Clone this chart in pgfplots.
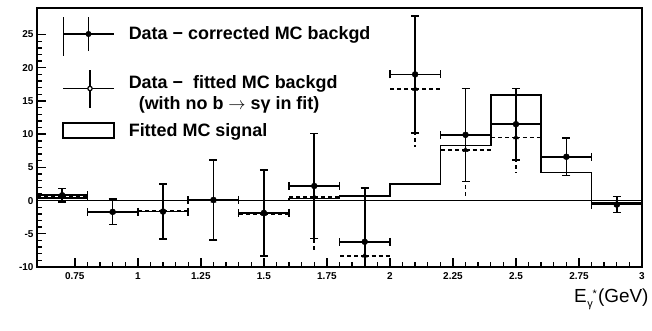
\documentclass[border=0pt]{standalone}
\usepackage{fontspec}
\setmainfont{Liberation Sans}
\usepackage{pgfplots}
\pgfplotsset{compat=1.18}
\usepackage{pgfplotstable}

\pgfplotstableread{
x y ex ey
0.7 0.8 0.1 1.0
0.9 -1.7 0.1 1.9
1.1 -1.65 0.1 4.15
1.3 0.1 0.1 6.0
1.5 -1.85 0.1 6.45
1.7 2.2 0.1 7.9
1.9 -6.2 0.1 8.1
2.1 19.0 0.1 8.8
2.3 9.9 0.1 7.0
2.5 11.5 0.1 5.35
2.7 6.6 0.1 2.8
2.9 -0.6 0.1 1.2
}\corr

\pgfplotstableread{
x y ex ey
0.7 0.6 0.1 1.0
0.9 -1.7 0.1 1.9
1.1 -1.5 0.1 4.15
1.3 0.0 0.1 6.0
1.5 -2.0 0.1 6.45
1.7 0.5 0.1 7.9
1.9 -8.3 0.1 8.1
2.1 16.8 0.1 8.8
2.3 7.6 0.1 7.0
2.5 9.5 0.1 5.35
2.7 6.6 0.1 2.8
2.9 -0.6 0.1 1.2
}\fitted

\pgfplotstableread{
x y
0.6 0.4
0.8 0.0
1.0 0.0
1.2 0.1
1.4 0.0
1.6 0.3
1.8 0.65
2.0 2.5
2.2 8.3
2.4 15.9
2.6 4.2
2.8 -0.4
3.0 -0.4
}\signal

\begin{document}
\begin{tikzpicture}
\useasboundingbox (0,0) rectangle (652bp,331bp);
\begin{axis}[
  at={(37bp,64bp)}, anchor=south west,
  scale only axis, width=605bp, height=259bp,
  xmin=0.6, xmax=3.0, ymin=-10, ymax=29,
  axis line style={line width=1.8bp},
  xtick={0.75,1,1.25,1.5,1.75,2,2.25,2.5,2.75,3},
  xticklabels={0.75,1,1.25,1.5,1.75,2,2.25,2.5,2.75,3},
  ytick={-10,-5,0,5,10,15,20,25},
  yticklabels={-10,-5,0,5,10,15,20,25},
  minor x tick num=4, minor y tick num=4,
  tick pos=left, tick align=inside,
  major tick length=9bp, minor tick length=5bp,
  every tick/.style={line width=1.4bp, black},
  tick label style={font=\fontsize{10}{10}\selectfont\bfseries},
  xticklabel style={yshift=-2bp},
  /pgf/number format/assume math mode=true,
  xlabel={E\kern0.5bp\raisebox{-5bp}{\fontsize{11}{11}\selectfont γ}\raisebox{5bp}{\fontsize{11}{11}\selectfont *}\kern1bp(GeV)},
  x label style={at={(rel axis cs:1,0)}, anchor=base east, xshift=10bp, yshift=-36bp, font=\fontsize{19}{19}\selectfont},
  legend style={at={(axis description cs:0,1)}, anchor=north west, xshift=25bp, yshift=-8bp,
    draw=none, fill=none, inner sep=0pt, row sep=14bp, column sep=13bp,
    font=\fontsize{18}{18}\selectfont\bfseries, nodes={inner sep=1bp}},
  legend cell align=left,
]
\addlegendimage{legend image code/.code={
  \path (0bp,-21.5bp) -- (0bp,17bp);
  \draw[line width=1.6bp] (0bp,0bp) -- (51bp,0bp);
  \draw[line width=1.6bp] (25.5bp,-17bp) -- (25.5bp,17bp);
  \fill (25.5bp,0bp) circle (2.8bp);}}
\addlegendentry{Data − corrected MC backgd}
\addlegendimage{legend image code/.code={
  \draw[line width=1.6bp] (0bp,0bp) -- (51bp,0bp);
  \draw[line width=1.6bp] (27bp,-19bp) -- (27bp,18bp);
  \draw[line width=1.2bp, fill=white] (27bp,0bp) circle (2.2bp);}}
\addlegendentry{\begin{tabular}{@{}l@{}}Data − \ fitted MC backgd\\[2bp]\hspace{10bp}(with no b $\rightarrow$ sγ in fit)\end{tabular}}
\addlegendimage{legend image code/.code={
  \draw[line width=1.6bp] (0bp,-7.5bp) rectangle (51bp,7.5bp);}}
\addlegendentry{Fitted MC signal}

\addplot[forget plot, line width=1.6bp, black] coordinates {(0.6,0) (3.0,0)};
\addplot[forget plot, const plot mark left, line width=1.6bp, black] table[x=x,y=y]{\signal};

\addplot[forget plot, only marks, mark=triangle*, mark size=3bp, black,
  error bars/.cd, x dir=both, x explicit, y dir=both, y explicit,
  error mark=none, error bar style={line width=1.6bp, dash pattern=on 4bp off 3bp}]
  table[x=x,y=y,x error=ex,y error=ey]{\fitted};

\addplot[forget plot, only marks, mark=*, mark size=3bp, black,
  error bars/.cd, x dir=both, x explicit, y dir=both, y explicit,
  error mark options={rotate=90, line width=1.6bp, mark size=4bp},
  error bar style={line width=1.6bp}]
  table[x=x,y=y,x error=ex,y error=ey]{\corr};
\end{axis}
\end{tikzpicture}
\end{document}
